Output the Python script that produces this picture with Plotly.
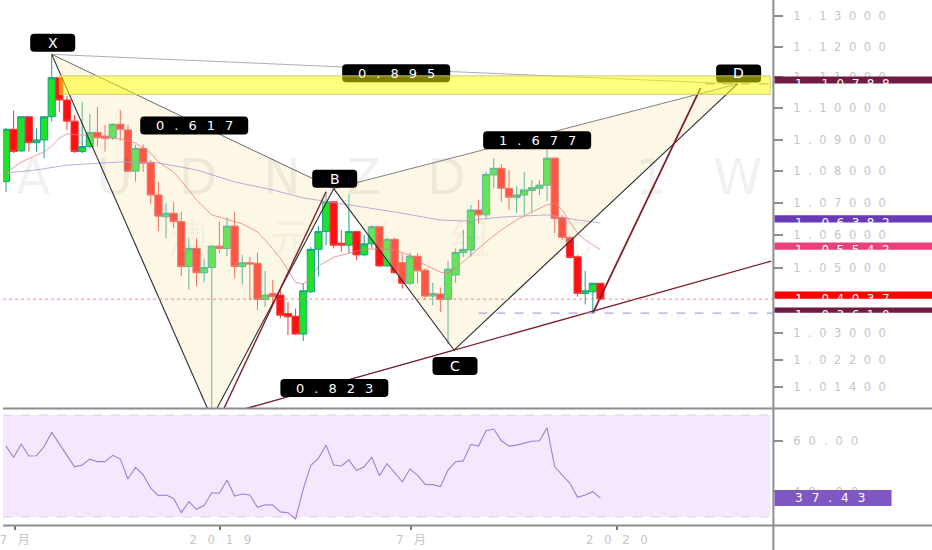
import math
import pandas as pd
import plotly.graph_objects as go

# ---------------- data ----------------
bar_start = "2018-06-24"
n_bars = 79
dates = pd.date_range(bar_start, periods=n_bars, freq="7D")

opens = [1.0767, 1.0933, 1.0864, 1.0973, 1.0890, 1.0899, 1.0973, 1.1099, 1.1027, 1.0959,
         1.0862, 1.0878, 1.0923, 1.0911, 1.0906, 1.0949, 1.0931, 1.0800, 1.0872, 1.0828,
         1.0725, 1.0657, 1.0668, 1.0642, 1.0503, 1.0559, 1.0484, 1.0500, 1.0566, 1.0559,
         1.0628, 1.0503, 1.0515, 1.0513, 1.0403, 1.0421, 1.0416, 1.0360, 1.0352, 1.0298,
         1.0426, 1.0556, 1.0611, 1.0704, 1.0575, 1.0569, 1.0611, 1.0539, 1.0573, 1.0626,
         1.0505, 1.0587, 1.0515, 1.0452, 1.0535, 1.0492, 1.0413, 1.0419, 1.0403, 1.0477,
         1.0546, 1.0554, 1.0678, 1.0663, 1.0788, 1.0809, 1.0746, 1.0718, 1.0725, 1.0739,
         1.0746, 1.0756, 1.0841, 1.0655, 1.0593, 1.0533, 1.0421, 1.0426, 1.0452]
highs = [1.0937, 1.0993, 1.0975, 1.0975, 1.0936, 1.0975, 1.1175, 1.1101, 1.1040, 1.0979,
         1.1021, 1.0982, 1.1005, 1.0947, 1.0952, 1.0995, 1.0947, 1.0883, 1.0885, 1.0835,
         1.0766, 1.0699, 1.0704, 1.0673, 1.0590, 1.0590, 1.0528, 1.0569, 1.0642, 1.0655,
         1.0673, 1.0538, 1.0533, 1.0546, 1.0490, 1.0462, 1.0436, 1.0395, 1.0375, 1.0453,
         1.0563, 1.0628, 1.0735, 1.0706, 1.0616, 1.0728, 1.0613, 1.0600, 1.0631, 1.0628,
         1.0593, 1.0591, 1.0544, 1.0546, 1.0544, 1.0498, 1.0453, 1.0439, 1.0521, 1.0559,
         1.0616, 1.0694, 1.0709, 1.0798, 1.0841, 1.0822, 1.0804, 1.0753, 1.0798, 1.0772,
         1.0772, 1.0869, 1.0843, 1.0662, 1.0597, 1.0538, 1.0490, 1.0453, 1.0453]
lows = [1.0735, 1.0857, 1.0862, 1.0862, 1.0862, 1.0841, 1.0957, 1.0989, 1.0931, 1.0857,
        1.0857, 1.0872, 1.0878, 1.0862, 1.0899, 1.0896, 1.0797, 1.0767, 1.0798, 1.0696,
        1.0613, 1.0590, 1.0621, 1.0474, 1.0433, 1.0443, 1.0455, 1.0040, 1.0544, 1.0535,
        1.0467, 1.0449, 1.0401, 1.0370, 1.0380, 1.0391, 1.0345, 1.0295, 1.0295, 1.0277,
        1.0422, 1.0472, 1.0569, 1.0559, 1.0549, 1.0544, 1.0523, 1.0535, 1.0559, 1.0503,
        1.0503, 1.0482, 1.0436, 1.0446, 1.0452, 1.0401, 1.0385, 1.0365, 1.0267, 1.0453,
        1.0533, 1.0533, 1.0637, 1.0649, 1.0746, 1.0704, 1.0678, 1.0668, 1.0663, 1.0668,
        1.0725, 1.0707, 1.0606, 1.0585, 1.0528, 1.0411, 1.0388, 1.0361, 1.0400]
closes = [1.0933, 1.0862, 1.0973, 1.0890, 1.0899, 1.0973, 1.1099, 1.1027, 1.0959, 1.0862,
          1.0878, 1.0923, 1.0906, 1.0904, 1.0949, 1.0933, 1.0800, 1.0872, 1.0825, 1.0725,
          1.0659, 1.0668, 1.0642, 1.0503, 1.0559, 1.0484, 1.0500, 1.0566, 1.0559, 1.0628,
          1.0503, 1.0515, 1.0511, 1.0403, 1.0416, 1.0411, 1.0355, 1.0350, 1.0298, 1.0429,
          1.0556, 1.0611, 1.0704, 1.0569, 1.0569, 1.0611, 1.0539, 1.0573, 1.0626, 1.0505,
          1.0587, 1.0484, 1.0452, 1.0535, 1.0490, 1.0413, 1.0421, 1.0403, 1.0495, 1.0546,
          1.0556, 1.0678, 1.0663, 1.0790, 1.0809, 1.0746, 1.0718, 1.0725, 1.0741, 1.0748,
          1.0756, 1.0841, 1.0652, 1.0593, 1.0531, 1.0421, 1.0429, 1.0452, 1.04037]

rsi_values = [57.8, 53.4, 58.5, 53.9, 54.0, 57.6, 63.2, 58.6, 54.3, 49.7,
              50.4, 52.7, 51.7, 51.7, 54.2, 52.7, 44.9, 49.5, 46.5, 41.3,
              38.4, 38.6, 37.3, 31.7, 36.0, 33.0, 34.6, 39.5, 39.3, 44.5,
              38.2, 39.0, 38.6, 33.8, 34.8, 34.7, 32.0, 31.7, 29.2, 40.9,
              50.3, 53.0, 58.2, 50.4, 50.0, 52.4, 48.2, 49.7, 53.4, 46.2,
              50.9, 47.4, 43.8, 48.8, 46.4, 42.8, 42.7, 41.9, 48.4, 51.7,
              52.0, 58.5, 57.8, 63.8, 64.5, 59.9, 57.8, 58.2, 58.9, 59.7,
              59.9, 65.0, 49.7, 46.5, 43.2, 37.7, 38.6, 39.9, 37.43]

ma_fast_idx = [0, 2, 5, 6, 7, 8, 10, 13, 15, 17, 19, 20, 22, 24, 25, 27, 29, 31, 33, 34,
               36, 37, 38, 39, 40, 41, 43, 45, 47, 49, 51, 53, 55, 57, 58, 59, 61, 63, 65,
               67, 69, 71, 72, 73, 74, 75, 76, 78]
ma_fast_val = [1.0794, 1.0829, 1.0861, 1.0880, 1.0905, 1.0918, 1.0915, 1.0908, 1.0902, 1.0889,
               1.0857, 1.0829, 1.0797, 1.0741, 1.0709, 1.0663, 1.0650, 1.0635, 1.0610, 1.0585,
               1.0529, 1.0492, 1.0455, 1.0449, 1.0468, 1.0505, 1.0532, 1.0544, 1.0557, 1.0557,
               1.0554, 1.0538, 1.0508, 1.0486, 1.0483, 1.0498, 1.0538, 1.0579, 1.0616,
               1.0647, 1.0672, 1.0694, 1.0700, 1.0678, 1.0641, 1.0606, 1.0585, 1.05542]
ma_slow_idx = [0, 4, 8, 12, 15, 20, 25, 30, 35, 39, 45, 51, 57, 60, 65, 71, 75, 78]
ma_slow_val = [1.0794, 1.0804, 1.0819, 1.0826, 1.0829, 1.0826, 1.0804, 1.0766, 1.0741, 1.0716,
               1.0694, 1.0672, 1.0647, 1.0644, 1.0656, 1.0663, 1.0647, 1.06382]

pattern_names = ["X", "A", "B", "C", "D"]
pattern_dates = ["2018-08-05", "2018-12-30", "2019-04-21", "2019-08-09 12:00", "2020-04-26"]
pattern_prices = [1.1175, 1.0048, 1.0745, 1.0250, 1.10788]
ratio_legs = [("X", "B", "0.617"), ("X", "D", "0.895"), ("B", "D", "1.677"), ("A", "C", "0.823")]

trend_ac = (["2018-12-30", "2020-05-27"], [1.0048, 1.0520])
trend_ab = (["2019-01-06", "2019-04-14"], [1.0048, 1.0735])
trend_cd = (["2019-12-15", "2020-03-23"], [1.0361, 1.1066])

prz_dates = ["2018-08-12", "2020-05-26"]
prz_prices = [1.1045, 1.1105]

last_close = 1.04037
swing_low = 1.03610
swing_low_from = "2019-09-01"
target_d = 1.10788
target_from = "2020-03-27"
ma_slow_last = 1.06382
ma_fast_last = 1.05542
rsi_last = 37.43

price_ticks = [1.13, 1.12, 1.11, 1.10, 1.09, 1.08, 1.07, 1.06, 1.05, 1.03, 1.022, 1.014]
price_tick_text = ["1.13000", "1.12000", "1.11000", "1.10000", "1.09000", "1.08000", "1.07000",
                   "1.06000", "1.05000", "1.03000", "1.02200", "1.01400"]
rsi_ticks = [60, 40]
rsi_tick_text = ["60.00", "40.00"]
time_ticks = ["2018-07-02", "2019-01-07", "2019-07-01", "2020-01-06"]
time_tick_text = ["7月", "2019", "7月", "2020"]

x_range = ["2018-06-21 06:00", "2020-05-28 12:00"]
price_range_log = [0.003369, 0.055145]
rsi_range = [26.86, 71.96]

# ---------------- helpers ----------------
FONT = "DejaVu Sans"
TICK_GRAY = "#c6c6c6"
AXIS_GRAY = "#8e8e8e"


def spaced(txt, px):
    if len(txt) < 2:
        return txt
    return f'<span style="letter-spacing:{px}px">{txt[:-1]}</span>{txt[-1]}'


def rrect_path(cx, cy, w, h, r):
    x0, x1 = cx - w / 2, cx + w / 2
    y0, y1 = cy - h / 2, cy + h / 2
    return (f"M{x0 + r},{y0} L{x1 - r},{y0} Q{x1},{y0} {x1},{y0 + r} "
            f"L{x1},{y1 - r} Q{x1},{y1} {x1 - r},{y1} L{x0 + r},{y1} "
            f"Q{x0},{y1} {x0},{y1 - r} L{x0},{y0 + r} Q{x0},{y0} {x0 + r},{y0} Z")


pt = {n: (pd.Timestamp(d), p) for n, d, p in zip(pattern_names, pattern_dates, pattern_prices)}

fig = go.Figure()

# pattern triangles (fill)
for tri in (["X", "A", "B", "X"], ["B", "C", "D", "B"]):
    fig.add_trace(go.Scatter(x=[pt[k][0] for k in tri], y=[pt[k][1] for k in tri],
                             mode="lines", fill="toself", fillcolor="rgba(250,230,180,0.33)",
                             line=dict(width=0), xaxis="x", yaxis="y", hoverinfo="skip"))

# moving averages
fig.add_trace(go.Scatter(x=[dates[i] for i in ma_slow_idx], y=ma_slow_val, mode="lines",
                         line=dict(color="rgba(179,157,219,0.85)", width=1),
                         xaxis="x", yaxis="y", hoverinfo="skip"))
fig.add_trace(go.Scatter(x=[dates[i] for i in ma_fast_idx], y=ma_fast_val, mode="lines",
                         line=dict(color="rgba(240,120,120,0.75)", width=1),
                         xaxis="x", yaxis="y", hoverinfo="skip"))

# candles
fig.add_trace(go.Candlestick(
    x=dates, open=opens, high=highs, low=lows, close=closes,
    increasing=dict(line=dict(color="#17a08e", width=1), fillcolor="#1fe22a"),
    decreasing=dict(line=dict(color="#f23a3a", width=1), fillcolor="#ff1010"),
    whiskerwidth=0, xaxis="x", yaxis="y", hoverinfo="skip"))

# pattern legs
def leg(a, b, color, width=1.0):
    fig.add_trace(go.Scatter(x=[pt[a][0], pt[b][0]], y=[pt[a][1], pt[b][1]], mode="lines",
                             line=dict(color=color, width=width), xaxis="x", yaxis="y",
                             hoverinfo="skip"))

leg("X", "D", "rgba(120,120,120,0.6)")
leg("X", "B", "rgba(70,70,70,0.8)")
leg("B", "D", "rgba(90,90,90,0.75)")
leg("A", "C", "rgba(90,90,90,0.7)")
for a, b in (("X", "A"), ("A", "B"), ("B", "C"), ("C", "D")):
    leg(a, b, "#2b2b2b", 1.1)

# user trend lines
for dd, pp, w in ((trend_ac[0], trend_ac[1], 1.3), (trend_ab[0], trend_ab[1], 1.4),
                  (trend_cd[0], trend_cd[1], 1.8)):
    fig.add_trace(go.Scatter(x=dd, y=pp, mode="lines", line=dict(color="#7d1f2c", width=w),
                             xaxis="x", yaxis="y", hoverinfo="skip"))

# RSI
fig.add_trace(go.Scatter(x=dates, y=rsi_values, mode="lines",
                         line=dict(color="#9c82d8", width=1.1), xaxis="x", yaxis="y2",
                         hoverinfo="skip"))

shapes = []
annotations = []

# RSI band
shapes.append(dict(type="rect", xref="paper", yref="y2", x0=0, x1=0.9965, y0=30, y1=70,
                   fillcolor="#f5e8fd", line=dict(width=0), layer="below"))
for lvl in (70, 30):
    shapes.append(dict(type="line", xref="paper", yref="y2", x0=0, x1=0.9965, y0=lvl, y1=lvl,
                       line=dict(color="#dccbef", width=1, dash="dash"), layer="below"))

# horizontal reference lines
shapes.append(dict(type="line", xref="paper", yref="y", x0=0, x1=1, y0=last_close, y1=last_close,
                   line=dict(color="rgba(255,90,90,0.75)", width=1, dash="dot"), layer="above"))
shapes.append(dict(type="line", xref="x", yref="y", x0=swing_low_from, x1=x_range[1],
                   y0=swing_low, y1=swing_low,
                   line=dict(color="#b7a2de", width=1.3, dash="dash"), layer="above"))
shapes.append(dict(type="line", xref="x", yref="y", x0=target_from, x1=x_range[1],
                   y0=target_d, y1=target_d,
                   line=dict(color="rgba(190,110,120,0.85)", width=1.2, dash="dash"), layer="above"))

# pattern label boxes (drawn before the PRZ zone so the zone tints them)
label_font = dict(family=FONT, size=13, color="white")
vertex_offsets = {"X": 11.5, "B": 10.0, "C": -16.0, "D": 10.5}
for name, dy in vertex_offsets.items():
    d, p = pt[name]
    shapes.append(dict(type="path", xref="x", yref="y", xsizemode="pixel", ysizemode="pixel",
                       xanchor=d.isoformat(), yanchor=p, path=rrect_path(1, dy, 45, 18, 4),
                       fillcolor="black", line=dict(width=0), layer="above"))
    annotations.append(dict(x=d.isoformat(), y=math.log10(p), xref="x", yref="y",
                            text=name, showarrow=False, xshift=1, yshift=dy,
                            font=dict(family=FONT, size=14, color="white"),
                            xanchor="center", yanchor="middle"))

for a, b, txt in ratio_legs:
    ta, pa = pt[a]
    tb, pb = pt[b]
    tm = ta + (tb - ta) / 2
    pm = 10 ** ((math.log10(pa) + math.log10(pb)) / 2)
    shapes.append(dict(type="path", xref="x", yref="y", xsizemode="pixel", ysizemode="pixel",
                       xanchor=tm.isoformat(), yanchor=pm, path=rrect_path(1.5, -4, 108, 18, 4),
                       fillcolor="black", line=dict(width=0), layer="above"))
    annotations.append(dict(x=tm.isoformat(), y=math.log10(pm), xref="x", yref="y",
                            text=spaced(txt, 10), showarrow=False, xshift=1.5, yshift=-4,
                            font=label_font, xanchor="center", yanchor="middle"))

# PRZ zone
shapes.append(dict(type="rect", xref="x", yref="y", x0=prz_dates[0], x1=prz_dates[1],
                   y0=prz_prices[0], y1=prz_prices[1], fillcolor="rgba(255,255,0,0.5)",
                   line=dict(color="rgba(200,200,110,0.9)", width=1), layer="above"))

# pane frame lines
W_EDGE = 1.21
sep_y = 1 - 408.5 / 525
shapes.append(dict(type="line", xref="paper", yref="paper", x0=0, x1=W_EDGE, y0=sep_y, y1=sep_y,
                   line=dict(color=AXIS_GRAY, width=2), layer="above"))
shapes.append(dict(type="line", xref="paper", yref="paper", x0=0, x1=W_EDGE, y0=-0.001, y1=-0.001,
                   line=dict(color=AXIS_GRAY, width=2), layer="above"))
shapes.append(dict(type="line", xref="paper", yref="paper", x0=1.0005, x1=1.0005, y0=-0.06, y1=1.01,
                   line=dict(color=AXIS_GRAY, width=2), layer="above"))

# right-hand price labels
box_font = dict(family=FONT, size=12, color="white")
for val, col, dy in ((target_d, "#701b43", 0), (ma_slow_last, "#673ab7", 0),
                     (ma_fast_last, "#ec407a", 0), (last_close, "#ff0000", 0),
                     (swing_low, "#701b43", -1.8)):
    shapes.append(dict(type="rect", xref="paper", yref="y", ysizemode="pixel", yanchor=val,
                       x0=1.002, x1=W_EDGE, y0=dy - 7.5, y1=dy + 7.5, fillcolor=col,
                       line=dict(width=0), layer="above"))
    annotations.append(dict(x=1, y=math.log10(val), xref="paper", yref="y",
                            text=spaced(f"{val:.5f}", 7.5), showarrow=False, xanchor="left",
                            yanchor="middle", xshift=20, yshift=dy, font=box_font))

shapes.append(dict(type="rect", xref="paper", yref="y2", ysizemode="pixel", yanchor=rsi_last,
                   x0=1.002, x1=892 / 773, y0=-8, y1=8, fillcolor="#7e57c2",
                   line=dict(width=0), layer="above"))
annotations.append(dict(x=1, y=rsi_last, xref="paper", yref="y2",
                        text=spaced(f"{rsi_last:.2f}", 9), showarrow=False, xanchor="left",
                        yanchor="middle", xshift=20, font=box_font))

# watermark
annotations.append(dict(x=0.502, y=1 - 177 / 525, xref="paper", yref="paper",
                        text=spaced("AUDNZD, 1W", 46), showarrow=False,
                        font=dict(family=FONT, size=50, color="rgba(0,0,0,0.055)"),
                        xanchor="center", yanchor="middle"))
annotations.append(dict(x=0.489, y=1 - 236 / 525, xref="paper", yref="paper",
                        text=spaced("澳元/纽元", 62), showarrow=False,
                        font=dict(family="Noto Sans CJK SC", size=40, color="rgba(0,0,0,0.05)"),
                        xanchor="center", yanchor="middle"))

tick_font = dict(family=FONT + ", Noto Sans CJK SC", size=11.5, color=TICK_GRAY)

fig.update_layout(
    width=932, height=550,
    margin=dict(l=0, r=159, t=0, b=25),
    paper_bgcolor="white", plot_bgcolor="white",
    showlegend=False, hovermode=False,
    boxgap=0.06, boxgroupgap=0,
    font=dict(family=FONT),
    shapes=shapes, annotations=annotations,
    xaxis=dict(type="date", range=x_range, anchor="y2", domain=[0, 1],
               tickmode="array", tickvals=time_ticks,
               ticktext=[spaced(t, 10.5) for t in time_tick_text],
               ticks="outside", ticklen=4, tickwidth=1.5, tickcolor="#777",
               tickfont=dict(family=FONT + ", Noto Sans CJK SC", size=12, color=TICK_GRAY),
               ticklabelstandoff=0, ticklabeloverflow="allow",
               showgrid=False, zeroline=False, showline=False,
               rangeslider=dict(visible=False), fixedrange=True),
    yaxis=dict(type="log", range=price_range_log, domain=[1 - 408 / 525, 1], anchor="x",
               side="right", tickmode="array", tickvals=price_ticks,
               ticktext=[spaced(t, 7.5) for t in price_tick_text],
               ticks="outside", ticklen=9, tickwidth=1.5, tickcolor=AXIS_GRAY,
               tickfont=tick_font, ticklabelstandoff=8,
               showgrid=False, zeroline=False, showline=False, fixedrange=True),
    yaxis2=dict(range=rsi_range, domain=[0, 1 - 410 / 525], anchor="x", side="right",
                tickmode="array", tickvals=rsi_ticks,
                ticktext=[spaced(t, 8) for t in rsi_tick_text],
                ticks="outside", ticklen=9, tickwidth=1.5, tickcolor=AXIS_GRAY,
                tickfont=tick_font, ticklabelstandoff=8,
                showgrid=False, zeroline=False, showline=False, fixedrange=True),
)

fig.write_html("out.html", config={"displayModeBar": False},
               post_script="document.body.style.margin='0';document.body.style.overflow='hidden';")
